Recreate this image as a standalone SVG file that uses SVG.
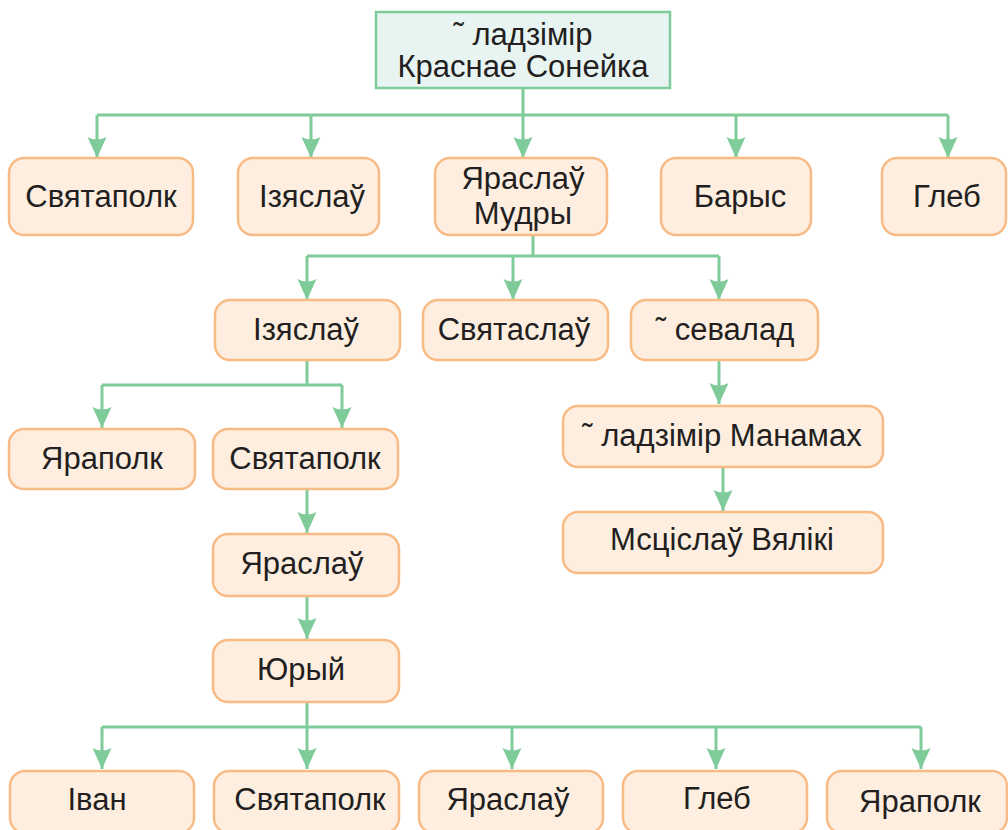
<svg xmlns="http://www.w3.org/2000/svg" width="1008" height="830" viewBox="0 0 1008 830">
<style>
.n rect{fill:#fdeee0;stroke:#f9bb85;stroke-width:2.5}
.top rect{fill:#e8f4f1;stroke:#7fcb9a;stroke-width:2.5}
text{font-family:"Liberation Sans",Arial,sans-serif;font-size:31px;fill:#231f20;text-anchor:middle}
.c path{fill:none;stroke:#7fcb9a;stroke-width:3}
</style>
<defs>
<marker id="ah" markerUnits="userSpaceOnUse" markerWidth="26" markerHeight="24" viewBox="-24 -12 26 24" refX="0" refY="0" orient="auto">
<path d="M0,0 L-21,-9.5 Q-16,0 -21,9.5 Z" fill="#7fcb9a"/>
</marker>
</defs>
<g class="c" id="connectors">
<path d="M523,88 V115 M97,115 H948"/>
<path d="M97,115 V158" marker-end="url(#ah)"/>
<path d="M311,115 V158" marker-end="url(#ah)"/>
<path d="M523,115 V158" marker-end="url(#ah)"/>
<path d="M736,115 V158" marker-end="url(#ah)"/>
<path d="M948,115 V158" marker-end="url(#ah)"/>
<path d="M533,235 V256 M307,256 H719"/>
<path d="M307,256 V300" marker-end="url(#ah)"/>
<path d="M513,256 V300" marker-end="url(#ah)"/>
<path d="M719,256 V300" marker-end="url(#ah)"/>
<path d="M307,360 V385 M102,385 H342"/>
<path d="M102,385 V428" marker-end="url(#ah)"/>
<path d="M342,385 V428" marker-end="url(#ah)"/>
<path d="M307,489 V533" marker-end="url(#ah)"/>
<path d="M307,596 V639" marker-end="url(#ah)"/>
<path d="M307,702 V727 M102,727 H921"/>
<path d="M102,727 V769" marker-end="url(#ah)"/>
<path d="M307,727 V769" marker-end="url(#ah)"/>
<path d="M512,727 V769" marker-end="url(#ah)"/>
<path d="M716,727 V769" marker-end="url(#ah)"/>
<path d="M921,727 V769" marker-end="url(#ah)"/>
<path d="M719,360 V404" marker-end="url(#ah)"/>
<path d="M723,467 V511" marker-end="url(#ah)"/>
</g>
<g class="top" id="n-uladzimir"><rect x="376" y="12" width="294" height="76"/><text x="523" y="45">˜ ладзімір</text><text x="523" y="77">Краснае Сонейка</text></g>
<g class="n" id="n-sviatapolk1"><rect x="9" y="158" width="184" height="77" rx="15"/><text x="101" y="207">Святаполк</text></g>
<g class="n" id="n-iziaslau1"><rect x="238" y="158" width="141" height="77" rx="15"/><text x="312" y="207">Ізяслаў</text></g>
<g class="n" id="n-jaraslau-mudry"><rect x="435" y="158" width="172" height="77" rx="15"/><text x="523" y="189">Яраслаў</text><text x="523" y="224">Мудры</text></g>
<g class="n" id="n-barys"><rect x="661" y="158" width="150" height="77" rx="15"/><text x="740" y="207">Барыс</text></g>
<g class="n" id="n-hleb1"><rect x="882" y="158" width="124" height="77" rx="15"/><text x="947" y="207">Глеб</text></g>
<g class="n" id="n-iziaslau2"><rect x="215" y="300" width="185" height="60" rx="15"/><text x="306" y="340">Ізяслаў</text></g>
<g class="n" id="n-sviataslau"><rect x="423" y="300" width="185" height="60" rx="15"/><text x="514" y="340">Святаслаў</text></g>
<g class="n" id="n-usevalad"><rect x="631" y="300" width="187" height="60" rx="15"/><text x="725" y="340">˜ севалад</text></g>
<g class="n" id="n-jarapolk1"><rect x="9" y="429" width="186" height="60" rx="15"/><text x="102" y="469">Яраполк</text></g>
<g class="n" id="n-sviatapolk2"><rect x="213" y="429" width="185" height="60" rx="15"/><text x="305" y="469">Святаполк</text></g>
<g class="n" id="n-manamakh"><rect x="563" y="406" width="320" height="61" rx="15"/><text x="722" y="446">˜ ладзімір Манамах</text></g>
<g class="n" id="n-mscislau"><rect x="563" y="512" width="320" height="61" rx="15"/><text x="722" y="550">Мсціслаў Вялікі</text></g>
<g class="n" id="n-jaraslau2"><rect x="213" y="534" width="186" height="62" rx="15"/><text x="302" y="574">Яраслаў</text></g>
<g class="n" id="n-juryj"><rect x="213" y="640" width="186" height="62" rx="15"/><text x="301" y="680">Юрый</text></g>
<g class="n" id="n-ivan"><rect x="10" y="771" width="184" height="62" rx="15"/><text x="97" y="810">Іван</text></g>
<g class="n" id="n-sviatapolk3"><rect x="214" y="771" width="185" height="62" rx="15"/><text x="310" y="810">Святаполк</text></g>
<g class="n" id="n-jaraslau3"><rect x="419" y="771" width="184" height="62" rx="15"/><text x="508" y="810">Яраслаў</text></g>
<g class="n" id="n-hleb2"><rect x="623" y="771" width="184" height="62" rx="15"/><text x="717" y="809">Глеб</text></g>
<g class="n" id="n-jarapolk2"><rect x="827" y="771" width="180" height="62" rx="15"/><text x="920" y="812">Яраполк</text></g>
</svg>
